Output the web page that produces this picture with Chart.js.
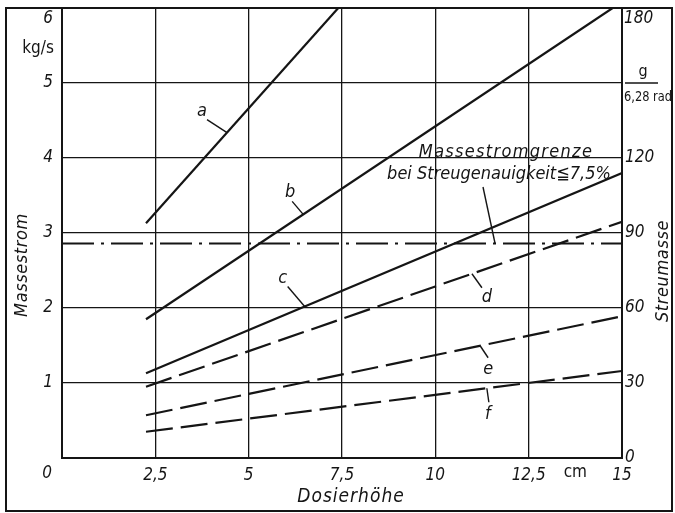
<!DOCTYPE html>
<html>
<head>
<meta charset="utf-8">
<script src="https://cdn.jsdelivr.net/npm/chart.js@4/dist/chart.umd.min.js"></script>
<style>
html,body{margin:0;padding:0;background:#fff;}
canvas{display:block;}
</style>
</head>
<body>
<canvas id="c" width="675" height="513"></canvas>
<script>
// ---- data ----
const xTicks = [0, 2.5, 5, 7.5, 10, 12.5, 15];
const xTickLabels = ['0', '2,5', '5', '7,5', '10', '12,5', '15'];
const leftTicks = [0, 1, 2, 3, 4, 5, 6];
const rightTicks = [0, 30, 60, 90, 120, 150, 180];

const aX = [2.25, 7.4];   const aY = [3.13, 6.0];
const bX = [2.25, 14.75]; const bY = [1.85, 6.0];
const cX = [2.25, 15];    const cY = [1.13, 3.8];
const dX = [2.25, 15];    const dY = [0.95, 3.15];
const eX = [2.25, 15];    const eY = [0.57, 1.89];
const fX = [2.25, 15];    const fY = [0.35, 1.16];
const limitX = [0, 15];   const limitY = [2.86, 2.86];

const FONT = "'DejaVu Sans Condensed', 'Liberation Sans Narrow', 'DejaVu Sans', sans-serif";
const INK = '#151515';

function pts(xs, ys) { return xs.map((x, i) => ({x: x, y: ys[i]})); }

function ds(label, xs, ys, dash) {
  return {
    label: label, data: pts(xs, ys), borderColor: INK, borderWidth: 2.2,
    borderDash: dash || [], pointRadius: 0, tension: 0, fill: false,
    yAxisID: 'y', borderCapStyle: 'butt'
  };
}

const datasets = [
  ds('a', aX, aY), ds('b', bX, bY), ds('c', cX, cY),
  ds('d', dX, dY, [27, 8]), ds('e', eX, eY, [27, 8]), ds('f', fX, fY, [27, 8]),
  ds('Massestromgrenze', limitX, limitY, [32, 7, 3, 7])
];

// annotation anchors: x value on the curve, leader offset and text offset in px
const labelSpecs = [
  {name: 'a', xs: aX, ys: aY, at: 4.42, dx: -20, dy: -13, tx: -5, ty: -8},
  {name: 'b', xs: bX, ys: bY, at: 6.46, dx: -11, dy: -13, tx: -2, ty: -9},
  {name: 'c', xs: cX, ys: cY, at: 6.5, dx: -17, dy: -20, tx: -5, ty: -8},
  {name: 'd', xs: dX, ys: dY, at: 10.98, dx: 10, dy: 14, tx: 5, ty: 10},
  {name: 'e', xs: eX, ys: eY, at: 11.2, dx: 8, dy: 12, tx: 0, ty: 12},
  {name: 'f', xs: fX, ys: fY, at: 11.38, dx: 2, dy: 14, tx: -1, ty: 12}
];

function interp(xs, ys, x) {
  const t = (x - xs[0]) / (xs[1] - xs[0]);
  return ys[0] + t * (ys[1] - ys[0]);
}

const decor = {
  id: 'decor',
  afterDraw(chart) {
    const ctx = chart.ctx;
    const xs = chart.scales.x, ys = chart.scales.y;
    ctx.save();
    ctx.fillStyle = INK; ctx.strokeStyle = INK;

    // outer frame
    ctx.lineWidth = 2;
    ctx.strokeRect(6, 8, 666, 503);

    // series labels with leader lines
    ctx.lineWidth = 1.4;
    ctx.font = 'italic 18px ' + FONT;
    ctx.textAlign = 'center'; ctx.textBaseline = 'middle';
    labelSpecs.forEach(s => {
      const px = xs.getPixelForValue(s.at);
      const py = ys.getPixelForValue(interp(s.xs, s.ys, s.at));
      ctx.beginPath();
      ctx.moveTo(px, py);
      ctx.lineTo(px + s.dx, py + s.dy);
      ctx.stroke();
      ctx.fillText(s.name, px + s.dx + s.tx, py + s.dy + s.ty);
    });

    // limit annotation
    ctx.font = 'italic 18px ' + FONT;
    ctx.letterSpacing = '1.3px';
    ctx.fillText('Massestromgrenze', 506, 152);
    ctx.letterSpacing = '0px';
    ctx.fillText('bei Streugenauigkeit\u22667,5%', 499, 174);
    ctx.beginPath();
    const lx = xs.getPixelForValue(11.6), ly = ys.getPixelForValue(limitY[0]);
    ctx.moveTo(483, 187); ctx.lineTo(lx, ly); ctx.stroke();

    // corner zero and top tick labels (set slightly below their ticks in the reference)
    ctx.font = 'italic 17px ' + FONT;
    ctx.fillText('0', 47, 474);
    ctx.textAlign = 'right';
    ctx.fillText('6', 53, 19);
    ctx.textAlign = 'left';
    ctx.fillText('180', 624, 19);

    // cm unit on x axis
    ctx.textAlign = 'center';
    ctx.font = '17px ' + FONT;
    ctx.fillText('cm', xs.getPixelForValue(13.75), 473);

    // kg/s unit
    ctx.font = '17px ' + FONT;
    ctx.fillText('kg/s', 38, 49);

    // right unit g / 6,28 rad
    ctx.font = '16px ' + FONT;
    ctx.fillText('g', 643, 72);
    ctx.lineWidth = 1.3;
    ctx.beginPath(); ctx.moveTo(625, 83); ctx.lineTo(658, 83); ctx.stroke();
    ctx.font = '14px ' + FONT;
    ctx.textAlign = 'left';
    ctx.fillText('6,28 rad', 624, 97, 48);

    // axis titles
    ctx.font = 'italic 19px ' + FONT;
    ctx.textAlign = 'center';
    ctx.letterSpacing = '1px';
    ctx.fillText('Dosierh\u00f6he', 351, 497);
    ctx.font = 'italic 18px ' + FONT;
    ctx.letterSpacing = '0.6px';
    ctx.save();
    ctx.translate(22, 265); ctx.rotate(-Math.PI / 2);
    ctx.fillText('Massestrom', 0, 0);
    ctx.restore();
    ctx.save();
    ctx.translate(663, 271); ctx.rotate(-Math.PI / 2);
    ctx.fillText('Streumasse', 0, 0);
    ctx.restore();
    ctx.letterSpacing = '0px';

    ctx.restore();
  }
};

new Chart(document.getElementById('c'), {
  type: 'line',
  data: {datasets: datasets},
  options: {
    responsive: false, animation: false,
    layout: {padding: {top: 8, left: 0, right: 0, bottom: 0}},
    plugins: {legend: {display: false}, tooltip: {enabled: false}},
    scales: {
      x: {
        type: 'linear', min: 0, max: 15,
        afterBuildTicks: s => { s.ticks = xTicks.map(v => ({value: v})); },
        afterFit: s => { s.height = 55; s.paddingLeft = 0; s.paddingRight = 0; },
        grid: {color: INK, lineWidth: 1.3, drawTicks: false},
        border: {color: INK, width: 2},
        ticks: {
          color: INK, padding: 7, maxRotation: 0,
          font: {family: FONT, size: 17, style: 'italic'},
          callback: v => { const i = xTicks.indexOf(v); return (i > 0) ? xTickLabels[i] : ''; }
        }
      },
      y: {
        type: 'linear', position: 'left', min: 0, max: 6,
        afterBuildTicks: s => { s.ticks = leftTicks.map(v => ({value: v})); },
        afterFit: s => { s.width = 62; s.paddingTop = 0; s.paddingBottom = 0; },
        grid: {color: INK, lineWidth: 1.3, drawTicks: false},
        border: {color: INK, width: 2},
        ticks: {
          color: INK, padding: 9,
          font: {family: FONT, size: 17, style: 'italic'},
          callback: v => ((v === 0 || v === 6) ? '' : String(v))
        }
      },
      y2: {
        type: 'linear', position: 'right', min: 0, max: 180,
        afterBuildTicks: s => { s.ticks = rightTicks.map(v => ({value: v})); },
        afterFit: s => { s.width = 53; s.paddingTop = 0; s.paddingBottom = 0; },
        grid: {display: false, drawTicks: false},
        border: {color: INK, width: 2},
        ticks: {
          color: INK, padding: 3,
          font: {family: FONT, size: 17, style: 'italic'},
          callback: v => ((v === 150 || v === 180) ? '' : String(v))
        }
      }
    }
  },
  plugins: [decor]
});
</script>
</body>
</html>
